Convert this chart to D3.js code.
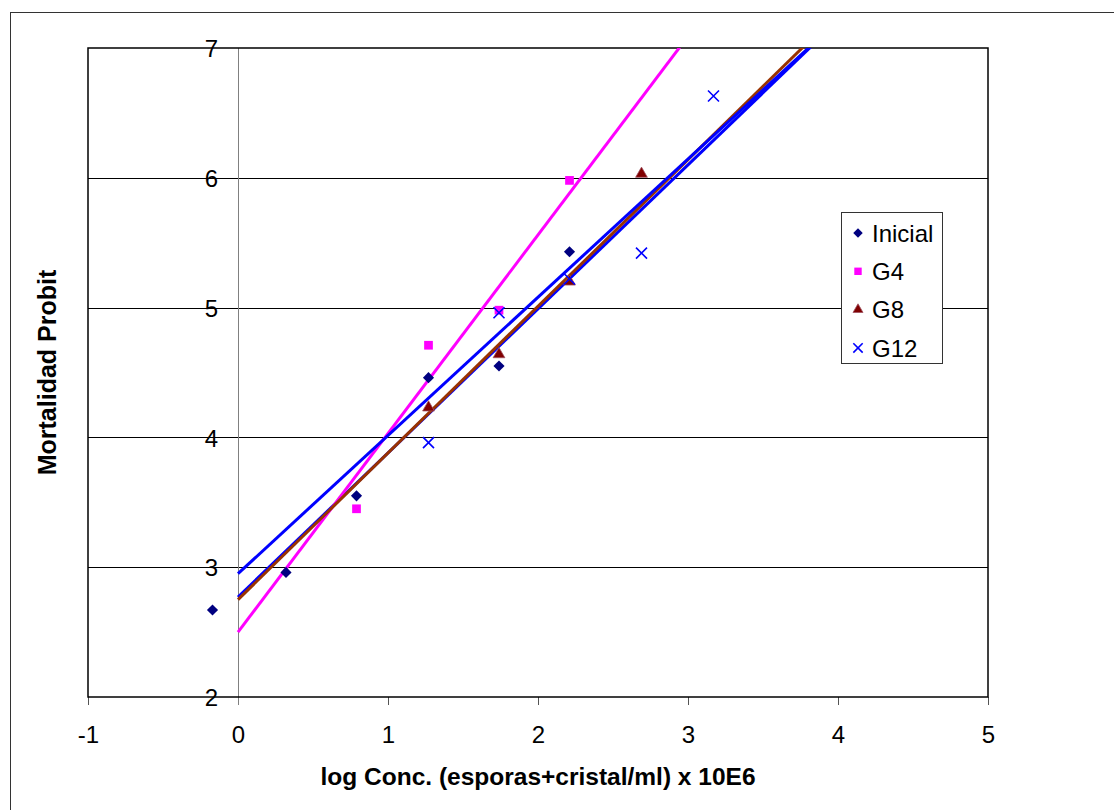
<!DOCTYPE html>
<html>
<head>
<meta charset="utf-8">
<script src="https://cdn.jsdelivr.net/npm/d3@7"></script>
<style>
  body { margin: 0; background: #fff; }
  svg { display: block; }
</style>
</head>
<body>
<svg width="1114" height="810"></svg>
<script>
// ---- data ----
let concLog = [-0.17, 0.32, 0.79, 1.27, 1.74, 2.21, 2.69, 3.17];
let inicial = [2.67, 2.96, 3.55, 4.46, 4.55, 5.43, null, null];
let g4      = [null, null, 3.45, 4.71, 4.98, 5.98, null, null];
let g8      = [null, null, null, 4.23, 4.64, 5.20, 6.03, null];
let g12     = [null, null, null, 3.96, 4.96, 5.22, 5.42, 6.63];

let seriesNames = ["Inicial", "G4", "G8", "G12"];
// linear trend lines (intercept at x = 0, slope), as drawn in the picture
let trendIntercept = [2.77, 2.50, 2.75, 2.95];
let trendSlope     = [1.11, 1.53, 1.13, 1.065];

let xTicks = [-1, 0, 1, 2, 3, 4, 5];
let yTicks = [2, 3, 4, 5, 6, 7];

// ---- setup ----
let font = "'Liberation Sans', Arial, sans-serif";
let svg = d3.select("svg"),
    margin = {top: 48, right: 126, bottom: 113, left: 88},
    width = +svg.attr("width") - margin.left - margin.right,
    height = +svg.attr("height") - margin.top - margin.bottom;

let markerColor = ["#000080", "#ff00ff", "#800000", "#0000ff"];
let lineColor   = ["#0000ff", "#ff00ff", "#993300", "#0000ff"];
let symbols     = ["diamond", "square", "triangle", "cross"];

let x = d3.scaleLinear().domain([-1, 5]).range([0, width]),
    y = d3.scaleLinear().domain([2, 7]).range([height, 0]);

let allSeries = [inicial, g4, g8, g12].map(function(vals, i) {
  return {
    name: seriesNames[i],
    idx: i,
    points: concLog.map(function(c, j) { return {x: c, y: vals[j]}; })
                   .filter(function(d) { return d.y != null; })
  };
});

// outer chart frame
svg.append("rect")
  .attr("x", 10.5).attr("y", 12.5)
  .attr("width", 1120).attr("height", 820)
  .attr("fill", "#fff").attr("stroke", "#333").attr("stroke-width", 1);

let g = svg.append("g")
  .attr("transform", "translate(" + margin.left + "," + margin.top + ")");

g.append("clipPath").attr("id", "plot-clip")
  .append("rect").attr("width", width).attr("height", height);

// horizontal gridlines
g.selectAll(".grid")
  .data(yTicks.filter(function(t) { return t > 2 && t < 7; }))
  .enter().append("line")
  .attr("class", "grid")
  .attr("x1", 0).attr("x2", width)
  .attr("y1", function(d) { return Math.round(y(d)) + 0.5; })
  .attr("y2", function(d) { return Math.round(y(d)) + 0.5; })
  .attr("stroke", "#000").attr("stroke-width", 1);

let plain = function(d) { return String(d); };

// x axis (bottom)
let xAxis = g.append("g")
  .attr("class", "axis axis-x")
  .attr("transform", "translate(0," + height + ")")
  .call(d3.axisBottom(x).tickValues(xTicks).tickFormat(plain).tickSize(8).tickPadding(21).tickSizeOuter(0));
xAxis.select(".domain").remove();
xAxis.selectAll(".tick line").attr("stroke", "#555");
xAxis.selectAll("text")
  .attr("font-family", font).attr("font-size", 24).attr("fill", "#000");

// y axis crossing at x = 0
g.append("line")
  .attr("x1", Math.round(x(0)) + 0.5).attr("x2", Math.round(x(0)) + 0.5)
  .attr("y1", 0).attr("y2", height + 8)
  .attr("stroke", "#808080").attr("stroke-width", 1);

let yAxis = g.append("g")
  .attr("class", "axis axis-y")
  .attr("transform", "translate(" + x(0) + ",0)")
  .call(d3.axisLeft(y).tickValues(yTicks).tickFormat(plain).tickSize(0).tickPadding(20));
yAxis.select(".domain").remove();
yAxis.selectAll("text")
  .attr("font-family", font).attr("font-size", 24).attr("fill", "#000")
  .attr("dy", "0.36em");

// plot frame
g.append("rect")
  .attr("width", width).attr("height", height)
  .attr("fill", "none").attr("stroke", "#000").attr("stroke-width", 1.5);

// trend lines
let trend = d3.line()
  .x(function(d) { return x(d[0]); })
  .y(function(d) { return y(d[1]); });

g.append("g").attr("clip-path", "url(#plot-clip)")
  .selectAll(".trend")
  .data(allSeries)
  .enter().append("path")
  .attr("class", "trend")
  .attr("fill", "none")
  .attr("stroke", function(d) { return lineColor[d.idx]; })
  .attr("stroke-width", 3)
  .attr("d", function(d) {
    let a = trendIntercept[d.idx], b = trendSlope[d.idx];
    return trend([[0, a], [5, a + 5 * b]]);
  });

// markers
function drawMarker(sel, kind, color, scale) {
  if (kind === "cross") {
    let r = 5.5 * scale;
    sel.append("path")
      .attr("d", "M" + (-r) + "," + (-r) + "L" + r + "," + r + "M" + (-r) + "," + r + "L" + r + "," + (-r))
      .attr("fill", "none").attr("stroke", color).attr("stroke-width", 1.6);
  } else if (kind === "diamond") {
    sel.append("path")
      .attr("d", d3.symbol().type(d3.symbolSquare).size(62 * scale * scale)())
      .attr("transform", "rotate(45)")
      .attr("fill", color);
  } else if (kind === "square") {
    sel.append("path")
      .attr("d", d3.symbol().type(d3.symbolSquare).size(76 * scale * scale)())
      .attr("fill", color);
  } else {
    sel.append("path")
      .attr("d", d3.symbol().type(d3.symbolTriangle).size(60 * scale * scale)())
      .attr("fill", color).attr("stroke", "#a05060").attr("stroke-width", 0.8);
  }
}

allSeries.forEach(function(s) {
  g.append("g").attr("class", "series")
    .selectAll(".pt")
    .data(s.points)
    .enter().append("g")
    .attr("class", "pt")
    .attr("transform", function(d) { return "translate(" + x(d.x) + "," + y(d.y) + ")"; })
    .each(function() { drawMarker(d3.select(this), symbols[s.idx], markerColor[s.idx], 1); });
});

// axis titles
svg.append("text")
  .attr("x", margin.left + width / 2).attr("y", 785)
  .attr("text-anchor", "middle")
  .attr("font-family", font).attr("font-size", 24.5).attr("font-weight", "bold")
  .text("log Conc. (esporas+cristal/ml) x 10E6");

svg.append("text")
  .attr("transform", "translate(56," + (margin.top + height / 2) + ") rotate(-90)")
  .attr("text-anchor", "middle")
  .attr("font-family", font).attr("font-size", 25).attr("font-weight", "bold")
  .text("Mortalidad Probit");

// legend
let legend = svg.append("g").attr("transform", "translate(841,212)");
legend.append("rect")
  .attr("x", 0.5).attr("y", 0.5).attr("width", 101).attr("height", 151)
  .attr("fill", "#fff").attr("stroke", "#333").attr("stroke-width", 1);

let items = legend.selectAll(".item")
  .data(seriesNames)
  .enter().append("g")
  .attr("class", "item")
  .attr("transform", function(d, i) { return "translate(0," + (21 + i * 38.3) + ")"; });

items.each(function(d, i) {
  let m = d3.select(this).append("g").attr("transform", "translate(17,0)");
  drawMarker(m, symbols[i], markerColor[i], 0.85);
});

items.append("text")
  .attr("x", 31).attr("dy", "0.36em")
  .attr("font-family", font).attr("font-size", 24)
  .text(function(d) { return d; });
</script>
</body>
</html>
